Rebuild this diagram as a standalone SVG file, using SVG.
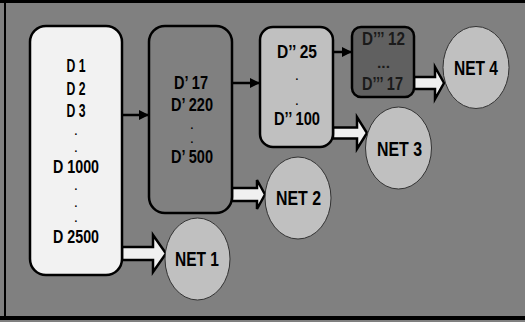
<svg xmlns="http://www.w3.org/2000/svg" width="525" height="322" viewBox="0 0 525 322">
<defs>
<marker id="ah" viewBox="0 0 10 10" refX="10" refY="5" markerWidth="10" markerHeight="10" markerUnits="userSpaceOnUse" orient="auto">
<path d="M0,0 L10,5 L0,10 Z" fill="#000"/>
</marker>
</defs>
<style>
.box{stroke:#000;stroke-width:2.5}
.net{fill:#c0c0c0;stroke:#333;stroke-width:1}
.t{font-family:"Liberation Sans",Arial,sans-serif;font-weight:bold;font-size:17.5px;fill:#000;text-anchor:middle}
.n{font-size:19.5px}
.d{font-size:10px}
.ln{stroke:#000;stroke-width:2.5;fill:none}
.blk{fill:#f0f0f0;stroke:#000;stroke-width:2.5;stroke-linejoin:miter}
</style>
<rect x="0" y="0" width="525" height="322" fill="#808080"/>
<g id="frame" stroke="#000">
<line x1="0" y1="1.5" x2="525" y2="1.5" stroke-width="3"/>
<line x1="5" y1="0" x2="5" y2="320" stroke-width="2"/>
<line x1="0" y1="318" x2="525" y2="318" stroke-width="4"/>
</g>
<g id="connectors">
<line class="ln" x1="122" y1="115" x2="149" y2="115" marker-end="url(#ah)"/>
<line class="ln" x1="232" y1="83" x2="260" y2="83" marker-end="url(#ah)"/>
<line class="ln" x1="333" y1="52" x2="352" y2="52" marker-end="url(#ah)"/>
<path class="blk" d="M122,247 L153,247 L153,235 L166,253.5 L153,272 L153,260 L122,260 Z"/>
<path class="blk" d="M232,188 L257,188 L257,180 L265,194.5 L257,209 L257,201 L232,201 Z"/>
<path class="blk" d="M333,127.5 L357,127.5 L357,117 L367,133 L357,149 L357,138.5 L333,138.5 Z"/>
<path class="blk" d="M414,77 L435,77 L435,67 L444,83 L435,99 L435,89 L414,89 Z"/>
</g>
<g id="box1">
<rect class="box" x="30" y="26" width="92" height="249" rx="16" fill="#f2f2f2"/>
<text class="t" x="76" y="72" textLength="19" lengthAdjust="spacingAndGlyphs">D 1</text>
<text class="t" x="76" y="95" textLength="19" lengthAdjust="spacingAndGlyphs">D 2</text>
<text class="t" x="76" y="117" textLength="19" lengthAdjust="spacingAndGlyphs">D 3</text>
<text class="t d" x="76" y="134.5">.</text>
<text class="t d" x="76" y="151.5">.</text>
<text class="t" x="76" y="173" textLength="46" lengthAdjust="spacingAndGlyphs">D 1000</text>
<text class="t d" x="76" y="189.5">.</text>
<text class="t d" x="76" y="206.5">.</text>
<text class="t d" x="76" y="221.5">.</text>
<text class="t" x="76" y="243" textLength="46" lengthAdjust="spacingAndGlyphs">D 2500</text>
</g>
<g id="box2">
<rect class="box" x="149" y="26" width="83" height="187" rx="16" fill="#808080"/>
<text class="t" x="191" y="89" textLength="34" lengthAdjust="spacingAndGlyphs">D’ 17</text>
<text class="t" x="192" y="111" textLength="42" lengthAdjust="spacingAndGlyphs">D’ 220</text>
<text class="t d" x="192" y="128.5">.</text>
<text class="t d" x="192" y="142.5">.</text>
<text class="t" x="192" y="163" textLength="42" lengthAdjust="spacingAndGlyphs">D’ 500</text>
</g>
<g id="box3">
<rect class="box" x="260" y="27" width="73" height="120" rx="13" fill="#c0c0c0"/>
<text class="t" x="297" y="58" textLength="40" lengthAdjust="spacingAndGlyphs">D’’ 25</text>
<text class="t d" x="297" y="79.5">.</text>
<text class="t d" x="297" y="104.5">.</text>
<text class="t" x="297" y="125" textLength="46" lengthAdjust="spacingAndGlyphs">D’’ 100</text>
</g>
<g id="box4">
<rect class="box" x="352" y="27" width="62" height="70" rx="9" fill="#606060"/>
<text class="t" x="383.5" y="45" textLength="43" lengthAdjust="spacingAndGlyphs" style="fill:#1a1a1a">D’’’ 12</text>
<text class="t" x="383.5" y="68" textLength="13" lengthAdjust="spacingAndGlyphs" style="fill:#1a1a1a;font-size:14px">...</text>
<text class="t" x="382.5" y="90" textLength="41" lengthAdjust="spacingAndGlyphs" style="fill:#1a1a1a">D’’’ 17</text>
</g>
<g id="net1">
<ellipse class="net" cx="197.5" cy="259" rx="32.5" ry="41"/>
<text class="t n" x="197" y="266" textLength="44" lengthAdjust="spacingAndGlyphs">NET 1</text>
</g>
<g id="net2">
<ellipse class="net" cx="298" cy="198" rx="33" ry="41"/>
<text class="t n" x="298.5" y="205" textLength="45" lengthAdjust="spacingAndGlyphs">NET 2</text>
</g>
<g id="net3">
<ellipse class="net" cx="398.5" cy="148" rx="33" ry="41"/>
<text class="t n" x="399.5" y="156" textLength="45" lengthAdjust="spacingAndGlyphs">NET 3</text>
</g>
<g id="net4">
<ellipse class="net" cx="476" cy="67.5" rx="33" ry="41"/>
<text class="t n" x="476" y="75" textLength="44" lengthAdjust="spacingAndGlyphs">NET 4</text>
</g>
</svg>
